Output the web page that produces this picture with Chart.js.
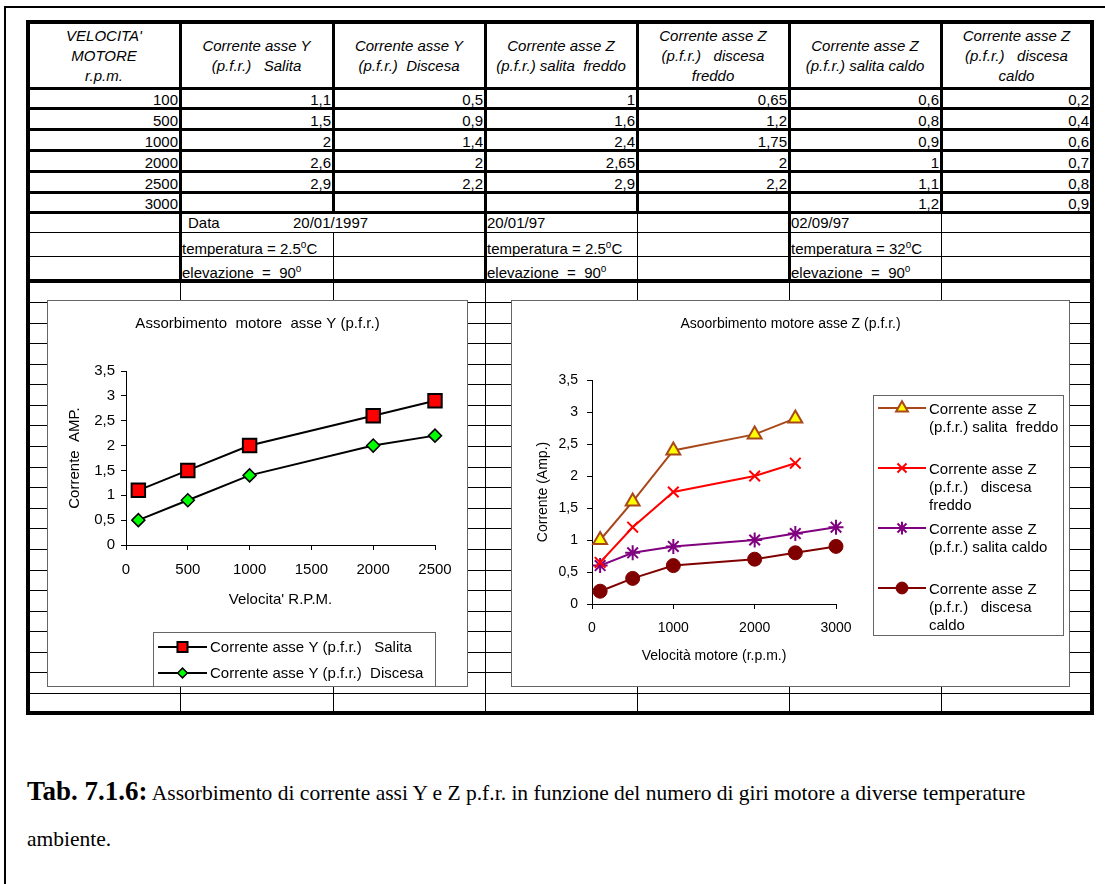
<!DOCTYPE html>
<html>
<head>
<meta charset="utf-8">
<script src="https://cdn.jsdelivr.net/npm/chart.js"></script>
<style>
html, body { margin: 0; padding: 0; background: #fff; }
body { width: 1105px; height: 884px; position: relative; overflow: hidden; font-family: "Liberation Sans", Arial, sans-serif; color: #000; }
.ln { position: absolute; background: #000; }
.tx { position: absolute; font-size: 15px; white-space: pre; line-height: 17px; height: 17px; }
.tx sup { font-size: 10px; }
.hd { position: absolute; top: 24px; height: 64px; font-size: 15px; font-style: italic; text-align: center; display: flex; flex-direction: column; justify-content: center; white-space: pre; }
.hd div { line-height: 20px; }
canvas { position: absolute; z-index: 2; }
.cap { position: absolute; left: 27px; font-family: "Liberation Serif", "Times New Roman", serif; white-space: nowrap; }
</style>
</head>
<body>
<div id="sheet"></div>
<canvas id="chartY" width="421" height="387" style="left:47px;top:300px"></canvas>
<canvas id="chartZ" width="559" height="387" style="left:511px;top:300px"></canvas>
<div class="cap" style="top:776px;line-height:30px"><b style="font-size:27px">Tab. 7.1.6:</b><span style="font-size:21.5px"> Assorbimento di corrente assi Y e Z p.f.r. in funzione del numero di giri motore a diverse temperature</span></div>
<div class="cap" style="top:827px;line-height:24px;font-size:21.5px">ambiente.</div>

<script>
// data read from the sheet
var rpm = [100, 500, 1000, 2000, 2500, 3000];
var ySalita = [1.1, 1.5, 2, 2.6, 2.9, null];
var yDiscesa = [0.5, 0.9, 1.4, 2, 2.2, null];
var zSalitaFreddo = [1, 1.6, 2.4, 2.65, 2.9, null];
var zDiscesaFreddo = [0.65, 1.2, 1.75, 2, 2.2, null];
var zSalitaCaldo = [0.6, 0.8, 0.9, 1, 1.1, 1.2];
var zDiscesaCaldo = [0.2, 0.4, 0.6, 0.7, 0.8, 0.9];

var headRpm = ["VELOCITA'", "MOTORE", "r.p.m."];
var nameYSalita = ["Corrente asse Y", "(p.f.r.)   Salita"];
var nameYDiscesa = ["Corrente asse Y", "(p.f.r.)  Discesa"];
var nameZSalitaFreddo = ["Corrente asse Z", "(p.f.r.) salita  freddo"];
var nameZDiscesaFreddo = ["Corrente asse Z", "(p.f.r.)   discesa", "freddo"];
var nameZSalitaCaldo = ["Corrente asse Z", "(p.f.r.) salita caldo"];
var nameZDiscesaCaldo = ["Corrente asse Z", "(p.f.r.)   discesa", "caldo"];

var ampTicks = [0, 0.5, 1, 1.5, 2, 2.5, 3, 3.5];
var rpmTicksY = [0, 500, 1000, 1500, 2000, 2500];
var rpmTicksZ = [0, 1000, 2000, 3000];

// ---- spreadsheet grid ----
var sheet = document.getElementById('sheet');
function el(cls, css, html) {
  var d = document.createElement('div');
  d.className = cls;
  d.style.cssText = css;
  if (html != null) d.innerHTML = html;
  sheet.appendChild(d);
  return d;
}
function hline(y, t, x1, x2) {
  el('ln', 'left:' + x1 + 'px;top:' + Math.round(y - t / 2) + 'px;width:' + (x2 - x1) + 'px;height:' + t + 'px');
}
function vline(x, t, y1, y2) {
  el('ln', 'left:' + Math.round(x - t / 2) + 'px;top:' + y1 + 'px;width:' + t + 'px;height:' + (y2 - y1) + 'px');
}
function fmt(v) { return v == null ? '' : String(v).replace('.', ','); }

// page frame
el('ln', 'left:4px;top:6px;width:1101px;height:2px');
el('ln', 'left:4px;top:6px;width:2px;height:878px');

// outer thick border
el('', 'position:absolute;left:26px;top:20px;width:1068px;height:695px;border:4px solid #000;box-sizing:border-box');

var colX = [28, 180, 333, 485, 637, 789, 941, 1092];
var rowBottoms = [108, 129, 150, 171, 192, 212];

hline(88, 3, 26, 1094);
rowBottoms.forEach(function (y) { hline(y, 3, 26, 1094); });
hline(232, 1, 26, 1094);
hline(256, 1, 26, 1094);
hline(281, 4, 26, 1094);
for (var k = 0; k < 20; k++) hline(Math.round(302 + k * 20.58), 1, 26, 1094);

colX.slice(1, 7).forEach(function (x) {
  vline(x, 3, 20, 212);
  vline(x, 1, 281, 715);
});
[180, 485, 789].forEach(function (x) { vline(x, 3, 212, 281); });
[637, 941].forEach(function (x) { vline(x, 1, 212, 281); });
vline(333, 1, 232, 281);

// header cells
var heads = [headRpm, nameYSalita, nameYDiscesa, nameZSalitaFreddo, nameZDiscesaFreddo, nameZSalitaCaldo, nameZDiscesaCaldo];
heads.forEach(function (lines, c) {
  var l = colX[c] + 2, r = colX[c + 1] - 2;
  el('hd', 'left:' + l + 'px;width:' + (r - l) + 'px', lines.map(function (s) { return '<div>' + s + '</div>'; }).join(''));
});

// value cells
var cols = [rpm, ySalita, yDiscesa, zSalitaFreddo, zDiscesaFreddo, zSalitaCaldo, zDiscesaCaldo];
cols.forEach(function (arr, c) {
  var l = colX[c] + 2, r = (c === 6 ? 1089 : colX[c + 1] - 2);
  arr.forEach(function (v, i) {
    if (v == null) return;
    el('tx', 'left:' + l + 'px;width:' + (r - l) + 'px;text-align:right;top:' + (rowBottoms[i] - 17) + 'px', fmt(v));
  });
});

// test conditions
var info = [
  [188, 214, 'Data'], [293, 214, '20/01/1997'], [487, 214, '20/01/97'], [791, 214, '02/09/97'],
  [182, 236, 'temperatura = 2.5<sup>o</sup>C'], [487, 236, 'temperatura = 2.5<sup>o</sup>C'], [791, 236, 'temperatura = 32<sup>o</sup>C'],
  [182, 260, 'elevazione  =  90<sup>o</sup>'], [487, 260, 'elevazione  =  90<sup>o</sup>'], [791, 260, 'elevazione  =  90<sup>o</sup>']
];
info.forEach(function (t) {
  el('tx', 'left:' + t[0] + 'px;top:' + t[1] + 'px', t[2]);
});

// ---- charts ----
Chart.defaults.font.family = '"Liberation Sans", Arial, sans-serif';
Chart.defaults.color = '#000';

function points(ys) {
  var out = [];
  rpm.forEach(function (x, i) { if (ys[i] != null) out.push({ x: x, y: ys[i] }); });
  return out;
}

var framePlugin = {
  id: 'frame',
  beforeDraw: function (chart) {
    var c = chart.ctx;
    c.save();
    c.fillStyle = '#fff';
    c.fillRect(0, 0, chart.width, chart.height);
    c.restore();
  },
  afterDraw: function (chart, args, o) {
    var c = chart.ctx;
    c.save();
    c.strokeStyle = '#666';
    c.lineWidth = 1;
    c.strokeRect(0.5, 0.5, chart.width - 1, chart.height - 1);
    c.fillStyle = '#000';
    c.font = o.titleSize + 'px ' + Chart.defaults.font.family;
    c.textAlign = 'center';
    c.textBaseline = 'middle';
    c.fillText(o.title, chart.width / 2, o.titleY);

    var L = o.legend;
    c.strokeStyle = '#666';
    c.lineWidth = 1;
    c.strokeRect(L.x + 0.5, L.y + 0.5, L.w, L.h);
    chart.data.datasets.forEach(function (ds, i) {
      var y = L.y0 + i * L.step;
      c.strokeStyle = ds.borderColor;
      c.lineWidth = ds.borderWidth;
      c.beginPath();
      c.moveTo(L.sx0, y);
      c.lineTo(L.sx1, y);
      c.stroke();
      c.fillStyle = ds.pointBackgroundColor;
      c.strokeStyle = ds.pointBorderColor;
      c.lineWidth = ds.pointBorderWidth;
      Chart.helpers.drawPoint(c, { pointStyle: ds.pointStyle, radius: ds.pointRadius * L.mk, rotation: 0, borderWidth: ds.pointBorderWidth }, (L.sx0 + L.sx1) / 2, y);
      c.fillStyle = '#000';
      c.textAlign = 'left';
      c.font = o.legendSize + 'px ' + Chart.defaults.font.family;
      L.labels[i].forEach(function (s, j) {
        c.fillText(s, L.tx, y + L.dy + j * L.lineStep);
      });
    });
    c.restore();
  }
};

function axes(xTicks, xMax, xTitle, yTitle, sz, geo) {
  return {
    x: {
      type: 'linear', min: 0, max: xMax,
      afterBuildTicks: function (s) { s.ticks = xTicks.map(function (v) { return { value: v }; }); },
      afterFit: function (s) { s.height = 70; },
      grid: { drawOnChartArea: false, drawTicks: true, tickLength: 5, color: '#000' },
      border: { color: '#000', width: 1 },
      ticks: { color: '#000', font: { size: sz }, padding: geo.xPad, maxRotation: 0, callback: function (v) { return String(v); } },
      title: { display: true, text: xTitle, color: '#000', font: { size: sz }, padding: { top: 0, bottom: geo.xTitlePad } }
    },
    y: {
      type: 'linear', min: 0, max: 3.5,
      afterBuildTicks: function (s) { s.ticks = ampTicks.map(function (v) { return { value: v }; }); },
      afterFit: function (s) { s.width = geo.yWidth; },
      grid: { drawOnChartArea: false, drawTicks: true, tickLength: 5, color: '#000' },
      border: { color: '#000', width: 1 },
      ticks: { color: '#000', font: { size: sz }, padding: geo.yPad, callback: function (v) { return fmt(v); } },
      title: { display: true, text: yTitle, color: '#000', font: { size: sz }, padding: { top: geo.yTitlePad, bottom: 0 } }
    }
  };
}

new Chart(document.getElementById('chartY'), {
  type: 'line',
  data: {
    datasets: [
      { label: nameYSalita.join(' '), data: points(ySalita), borderColor: '#000', borderWidth: 2,
        pointStyle: 'rect', pointRadius: 9.5, pointBackgroundColor: '#ff0000', pointBorderColor: '#000', pointBorderWidth: 2, clip: false },
      { label: nameYDiscesa.join(' '), data: points(yDiscesa), borderColor: '#000', borderWidth: 2,
        pointStyle: 'rectRot', pointRadius: 6.5, pointBackgroundColor: '#00ff00', pointBorderColor: '#000', pointBorderWidth: 1.5, clip: false }
    ]
  },
  options: {
    responsive: false, animation: false, devicePixelRatio: 1, events: [],
    layout: { padding: { left: 0, top: 71, right: 33, bottom: 72 } },
    scales: axes(rpmTicksY, 2500, "Velocita' R.P.M.", 'Corrente  AMP.', 15, { xPad: 11, xTitlePad: 6, yWidth: 79, yPad: 6, yTitlePad: 19 }),
    plugins: {
      legend: { display: false }, tooltip: { enabled: false },
      frame: {
        title: 'Assorbimento  motore  asse Y (p.f.r.)', titleY: 24, titleSize: 15, legendSize: 15,
        legend: { x: 106, y: 332, w: 282, h: 54, y0: 347, step: 26, sx0: 111, sx1: 160, tx: 163, dy: 1, lineStep: 0, mk: 0.75,
          labels: [[nameYSalita.join(' ')], [nameYDiscesa.join(' ')]] }
      }
    }
  },
  plugins: [framePlugin]
});

var brown = '#a8481a';
new Chart(document.getElementById('chartZ'), {
  type: 'line',
  data: {
    datasets: [
      { label: nameZSalitaFreddo.join(' '), data: points(zSalitaFreddo), borderColor: brown, borderWidth: 2,
        pointStyle: 'triangle', pointRadius: 8, pointBackgroundColor: '#ffff00', pointBorderColor: brown, pointBorderWidth: 2, clip: false },
      { label: nameZDiscesaFreddo.join(' '), data: points(zDiscesaFreddo), borderColor: '#ff0000', borderWidth: 2,
        pointStyle: 'crossRot', pointRadius: 7.5, pointBackgroundColor: '#ff0000', pointBorderColor: '#ff0000', pointBorderWidth: 2, clip: false },
      { label: nameZSalitaCaldo.join(' '), data: points(zSalitaCaldo), borderColor: '#800080', borderWidth: 2,
        pointStyle: 'star', pointRadius: 7.5, pointBackgroundColor: '#800080', pointBorderColor: '#800080', pointBorderWidth: 2, clip: false },
      { label: nameZDiscesaCaldo.join(' '), data: points(zDiscesaCaldo), borderColor: '#800000', borderWidth: 2,
        pointStyle: 'circle', pointRadius: 7, pointBackgroundColor: '#800000', pointBorderColor: '#800000', pointBorderWidth: 1, clip: false }
    ]
  },
  options: {
    responsive: false, animation: false, devicePixelRatio: 1, events: [],
    layout: { padding: { left: 0, top: 80, right: 234, bottom: 13 } },
    scales: axes(rpmTicksZ, 3000, 'Velocità motore (r.p.m.)', 'Corrente (Amp.)', 14, { xPad: 11, xTitlePad: 9, yWidth: 81, yPad: 9, yTitlePad: 24 }),
    plugins: {
      legend: { display: false }, tooltip: { enabled: false },
      frame: {
        title: 'Asoorbimento motore asse Z (p.f.r.)', titleY: 24, titleSize: 14, legendSize: 15,
        legend: { x: 362, y: 95, w: 190, h: 240, y0: 108, step: 60, sx0: 367, sx1: 415, tx: 418, dy: 2, lineStep: 18, mk: 0.85,
          labels: [nameZSalitaFreddo, nameZDiscesaFreddo, nameZSalitaCaldo, nameZDiscesaCaldo] }
      }
    }
  },
  plugins: [framePlugin]
});
</script>
</body>
</html>
